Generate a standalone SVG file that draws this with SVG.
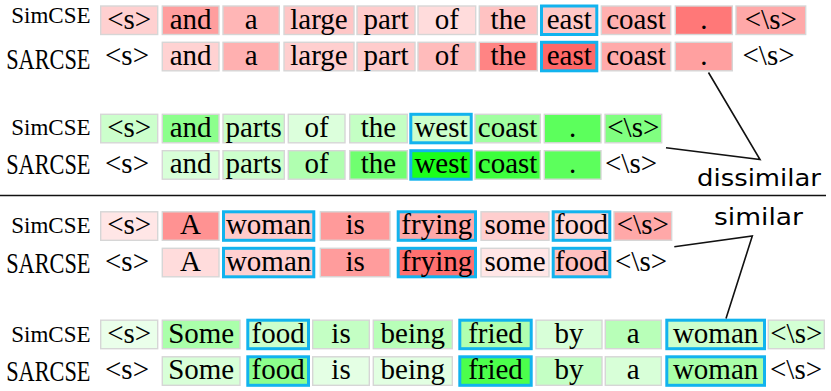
<svg xmlns="http://www.w3.org/2000/svg" width="831" height="391" viewBox="0 0 831 391">
<style>
.b{stroke:#d6d6d6;stroke-width:1.4}
.h{stroke:#12b3ee;stroke-width:3}
.t{font-family:"Liberation Serif","Times New Roman",serif;font-size:29px;text-anchor:middle;fill:#000}
.sim{font-family:"Liberation Serif","Times New Roman",serif;font-size:23px;text-anchor:end;fill:#000}
.sar{font-family:"Liberation Serif","Times New Roman",serif;font-size:22.3px;text-anchor:end;fill:#000}
.hw{font-family:"DejaVu Sans","Noto Sans",sans-serif;font-size:23px;fill:#000}
.ln{fill:none;stroke:#111;stroke-width:1.6;stroke-linejoin:miter}
</style>
<rect width="831" height="391" fill="#fff"/>

<!-- Row 1: SimCSE -->
<g id="row1">
<text class="sim" x="90.5" y="22.7">SimCSE</text>
<g id="r1_s"><rect class="b" x="100.7" y="6" width="57" height="28.5" fill="#ffd0d0"/><text class="t" x="129.2" y="28.5">&lt;s&gt;</text></g>
<g id="r1_and"><rect class="b" x="162.3" y="6" width="56.7" height="28.5" fill="#ff9e9e"/><text class="t" x="190.6" y="28.5">and</text></g>
<g id="r1_a"><rect class="b" x="223" y="6" width="56.3" height="28.5" fill="#ffb6b6"/><text class="t" x="251.1" y="28.5">a</text></g>
<g id="r1_large"><rect class="b" x="284" y="6" width="70" height="28.5" fill="#ffc6c6"/><text class="t" x="319" y="28.5">large</text></g>
<g id="r1_part"><rect class="b" x="357" y="6" width="58" height="28.5" fill="#ffcccc"/><text class="t" x="386" y="28.5">part</text></g>
<g id="r1_of"><rect class="b" x="418" y="6" width="57.7" height="28.5" fill="#ffdcdc"/><text class="t" x="446.8" y="28.5">of</text></g>
<g id="r1_the"><rect class="b" x="479.3" y="6" width="58" height="28.5" fill="#ffc2c2"/><text class="t" x="508.3" y="28.5">the</text></g>
<g id="r1_east"><rect class="h" x="541.5" y="6" width="55.3" height="28.5" fill="#ffc8c8"/><text class="t" x="569.2" y="28.5">east</text></g>
<g id="r1_coast"><rect class="b" x="601.3" y="6" width="69.4" height="28.5" fill="#ffb0b0"/><text class="t" x="636" y="28.5">coast</text></g>
<g id="r1_dot"><rect class="b" x="675.3" y="6" width="57" height="28.5" fill="#ff7878"/><text class="t" x="703.8" y="28.5">.</text></g>
<g id="r1_es"><rect class="b" x="736" y="6" width="69.7" height="28.5" fill="#ffa8a8"/><text class="t" x="770.8" y="28.5">&lt;\s&gt;</text></g>
</g>

<!-- Row 2: SARCSE -->
<g id="row2">
<text class="sar" transform="translate(90.5,69) scale(1,1.28)">SARCSE</text>
<g id="r2_s"><text class="t" x="127" y="64.8">&lt;s&gt;</text></g>
<g id="r2_and"><rect class="b" x="162.3" y="42.3" width="56.7" height="28.5" fill="#ffd2d2"/><text class="t" x="190.6" y="64.8">and</text></g>
<g id="r2_a"><rect class="b" x="223" y="42.3" width="56.3" height="28.5" fill="#ffb0b0"/><text class="t" x="251.1" y="64.8">a</text></g>
<g id="r2_large"><rect class="b" x="284" y="42.3" width="70" height="28.5" fill="#ffcfcf"/><text class="t" x="319" y="64.8">large</text></g>
<g id="r2_part"><rect class="b" x="357" y="42.3" width="58" height="28.5" fill="#ffcccc"/><text class="t" x="386" y="64.8">part</text></g>
<g id="r2_of"><rect class="b" x="418" y="42.3" width="57.7" height="28.5" fill="#ffbbbb"/><text class="t" x="446.8" y="64.8">of</text></g>
<g id="r2_the"><rect class="b" x="479.3" y="42.3" width="58" height="28.5" fill="#ff8484"/><text class="t" x="508.3" y="64.8">the</text></g>
<g id="r2_east"><rect class="h" x="541.5" y="42.3" width="55.3" height="28.5" fill="#ff6868"/><text class="t" x="569.2" y="64.8">east</text></g>
<g id="r2_coast"><rect class="b" x="601.3" y="42.3" width="69.4" height="28.5" fill="#ffaaaa"/><text class="t" x="636" y="64.8">coast</text></g>
<g id="r2_dot"><rect class="b" x="675.3" y="42.3" width="57" height="28.5" fill="#ffa0a0"/><text class="t" x="703.8" y="64.8">.</text></g>
<g id="r2_es"><text class="t" x="768.5" y="64.8">&lt;\s&gt;</text></g>
</g>

<!-- Row 3: SimCSE -->
<g id="row3">
<text class="sim" x="90.5" y="134.8">SimCSE</text>
<g id="r3_s"><rect class="b" x="100.7" y="114.3" width="57" height="28.5" fill="#ccffcc"/><text class="t" x="129.2" y="136.8">&lt;s&gt;</text></g>
<g id="r3_and"><rect class="b" x="162.3" y="114.3" width="56.7" height="28.5" fill="#8cff8c"/><text class="t" x="190.6" y="136.8">and</text></g>
<g id="r3_parts"><rect class="b" x="223" y="114.3" width="61.3" height="28.5" fill="#c8ffc8"/><text class="t" x="253.6" y="136.8">parts</text></g>
<g id="r3_of"><rect class="b" x="288.3" y="114.3" width="56.7" height="28.5" fill="#dcffdc"/><text class="t" x="316.6" y="136.8">of</text></g>
<g id="r3_the"><rect class="b" x="349.7" y="114.3" width="57.6" height="28.5" fill="#c4ffc4"/><text class="t" x="378.5" y="136.8">the</text></g>
<g id="r3_west"><rect class="h" x="410.8" y="114.3" width="60.4" height="28.5" fill="#ccffcc"/><text class="t" x="441" y="136.8">west</text></g>
<g id="r3_coast"><rect class="b" x="475" y="114.3" width="65.3" height="28.5" fill="#a0ffa0"/><text class="t" x="507.6" y="136.8">coast</text></g>
<g id="r3_dot"><rect class="b" x="544.3" y="114.3" width="56.7" height="28.5" fill="#5cff5c"/><text class="t" x="572.6" y="136.8">.</text></g>
<g id="r3_es"><rect class="b" x="605" y="114.3" width="56.7" height="28.5" fill="#80ff80"/><text class="t" x="633.3" y="136.8">&lt;\s&gt;</text></g>
</g>

<!-- Row 4: SARCSE -->
<g id="row4">
<text class="sar" transform="translate(90.5,174) scale(1,1.28)">SARCSE</text>
<g id="r4_s"><text class="t" x="127" y="173.2">&lt;s&gt;</text></g>
<g id="r4_and"><rect class="b" x="162.3" y="150.7" width="56.7" height="28.5" fill="#d8ffd8"/><text class="t" x="190.6" y="173.2">and</text></g>
<g id="r4_parts"><rect class="b" x="223" y="150.7" width="61.3" height="28.5" fill="#ccffcc"/><text class="t" x="253.6" y="173.2">parts</text></g>
<g id="r4_of"><rect class="b" x="288.3" y="150.7" width="56.7" height="28.5" fill="#b0ffb0"/><text class="t" x="316.6" y="173.2">of</text></g>
<g id="r4_the"><rect class="b" x="349.7" y="150.7" width="57.6" height="28.5" fill="#70ff70"/><text class="t" x="378.5" y="173.2">the</text></g>
<g id="r4_west"><rect class="h" x="410.8" y="150.7" width="60.4" height="28.5" fill="#1cff1c"/><text class="t" x="441" y="173.2">west</text></g>
<g id="r4_coast"><rect class="b" x="475" y="150.7" width="65.3" height="28.5" fill="#3cff3c"/><text class="t" x="507.6" y="173.2">coast</text></g>
<g id="r4_dot"><rect class="b" x="544.3" y="150.7" width="56.7" height="28.5" fill="#5cff5c"/><text class="t" x="572.6" y="173.2">.</text></g>
<g id="r4_es"><text class="t" x="631" y="173.2">&lt;\s&gt;</text></g>
</g>

<!-- Row 5: SimCSE -->
<g id="row5">
<text class="sim" x="90.5" y="233.3">SimCSE</text>
<g id="r5_s"><rect class="b" x="100.7" y="211.8" width="57" height="28.5" fill="#ffe6e6"/><text class="t" x="129.2" y="234.3">&lt;s&gt;</text></g>
<g id="r5_A"><rect class="b" x="162.3" y="211.8" width="56.7" height="28.5" fill="#ff9292"/><text class="t" x="190.6" y="234.3">A</text></g>
<g id="r5_woman"><rect class="h" x="223.5" y="211.8" width="90.3" height="28.5" fill="#ffcaca"/><text class="t" x="268.6" y="234.3">woman</text></g>
<g id="r5_is"><rect class="b" x="320.3" y="211.8" width="69.7" height="28.5" fill="#ff9a9a"/><text class="t" x="355.2" y="234.3">is</text></g>
<g id="r5_frying"><rect class="h" x="398.2" y="211.8" width="77.3" height="28.5" fill="#ffa8a8"/><text class="t" x="436.8" y="234.3">frying</text></g>
<g id="r5_some"><rect class="b" x="481" y="211.8" width="68" height="28.5" fill="#ffcece"/><text class="t" x="515" y="234.3">some</text></g>
<g id="r5_food"><rect class="h" x="553.2" y="211.8" width="56.6" height="28.5" fill="#ffd8d8"/><text class="t" x="581.5" y="234.3">food</text></g>
<g id="r5_es"><rect class="b" x="614" y="211.8" width="57.7" height="28.5" fill="#ffa8a8"/><text class="t" x="642.8" y="234.3">&lt;\s&gt;</text></g>
</g>

<!-- Row 6: SARCSE -->
<g id="row6">
<text class="sar" transform="translate(90.5,272.7) scale(1,1.28)">SARCSE</text>
<g id="r6_s"><text class="t" x="127" y="270.8">&lt;s&gt;</text></g>
<g id="r6_A"><rect class="b" x="162.3" y="248.3" width="56.7" height="28.5" fill="#ffdcdc"/><text class="t" x="190.6" y="270.8">A</text></g>
<g id="r6_woman"><rect class="h" x="223.5" y="248.3" width="90.3" height="28.5" fill="#ffd0d0"/><text class="t" x="268.6" y="270.8">woman</text></g>
<g id="r6_is"><rect class="b" x="320.3" y="248.3" width="69.7" height="28.5" fill="#ff9c9c"/><text class="t" x="355.2" y="270.8">is</text></g>
<g id="r6_frying"><rect class="h" x="398.2" y="248.3" width="77.3" height="28.5" fill="#ff7070"/><text class="t" x="436.8" y="270.8">frying</text></g>
<g id="r6_some"><rect class="b" x="481" y="248.3" width="68" height="28.5" fill="#ffe6e6"/><text class="t" x="515" y="270.8">some</text></g>
<g id="r6_food"><rect class="h" x="553.2" y="248.3" width="56.6" height="28.5" fill="#ffc0c0"/><text class="t" x="581.5" y="270.8">food</text></g>
<g id="r6_es"><text class="t" x="641" y="270.8">&lt;\s&gt;</text></g>
</g>

<!-- Row 7: SimCSE -->
<g id="row7">
<text class="sim" x="90.5" y="342.3">SimCSE</text>
<g id="r7_s"><rect class="b" x="100.7" y="320.2" width="57" height="28.5" fill="#eaffea"/><text class="t" x="129.2" y="342.7">&lt;s&gt;</text></g>
<g id="r7_Some"><rect class="b" x="162.3" y="320.2" width="77.7" height="28.5" fill="#aaffaa"/><text class="t" x="201.2" y="342.7">Some</text></g>
<g id="r7_food"><rect class="h" x="247.8" y="320.2" width="60.7" height="28.5" fill="#ccffcc"/><text class="t" x="278.2" y="342.7">food</text></g>
<g id="r7_is"><rect class="b" x="312.7" y="320.2" width="56.6" height="28.5" fill="#c4ffc4"/><text class="t" x="341" y="342.7">is</text></g>
<g id="r7_being"><rect class="b" x="373.3" y="320.2" width="79" height="28.5" fill="#b8ffb8"/><text class="t" x="412.8" y="342.7">being</text></g>
<g id="r7_fried"><rect class="h" x="459.8" y="320.2" width="71.4" height="28.5" fill="#b0ffb0"/><text class="t" x="495.5" y="342.7">fried</text></g>
<g id="r7_by"><rect class="b" x="536" y="320.2" width="66" height="28.5" fill="#d8ffd8"/><text class="t" x="569" y="342.7">by</text></g>
<g id="r7_a"><rect class="b" x="605.3" y="320.2" width="56" height="28.5" fill="#b8ffb8"/><text class="t" x="633.3" y="342.7">a</text></g>
<g id="r7_woman"><rect class="h" x="666.8" y="320.2" width="97.7" height="28.5" fill="#ccffcc"/><text class="t" x="715.6" y="342.7">woman</text></g>
<g id="r7_es"><rect class="b" x="768.3" y="320.2" width="56" height="28.5" fill="#d4ffd4"/><text class="t" x="796.3" y="342.7">&lt;\s&gt;</text></g>
</g>

<!-- Row 8: SARCSE -->
<g id="row8">
<text class="sar" transform="translate(90.5,381) scale(1,1.28)">SARCSE</text>
<g id="r8_s"><text class="t" x="127" y="379.3">&lt;s&gt;</text></g>
<g id="r8_Some"><rect class="b" x="162.3" y="356.8" width="77.7" height="28.5" fill="#d8ffd8"/><text class="t" x="201.2" y="379.3">Some</text></g>
<g id="r8_food"><rect class="h" x="247.8" y="356.8" width="60.7" height="28.5" fill="#8cff8c"/><text class="t" x="278.2" y="379.3">food</text></g>
<g id="r8_is"><rect class="b" x="312.7" y="356.8" width="56.6" height="28.5" fill="#e4ffe4"/><text class="t" x="341" y="379.3">is</text></g>
<g id="r8_being"><rect class="b" x="373.3" y="356.8" width="79" height="28.5" fill="#e2ffe2"/><text class="t" x="412.8" y="379.3">being</text></g>
<g id="r8_fried"><rect class="h" x="459.8" y="356.8" width="71.4" height="28.5" fill="#4cff4c"/><text class="t" x="495.5" y="379.3">fried</text></g>
<g id="r8_by"><rect class="b" x="536" y="356.8" width="66" height="28.5" fill="#c4ffc4"/><text class="t" x="569" y="379.3">by</text></g>
<g id="r8_a"><rect class="b" x="605.3" y="356.8" width="56" height="28.5" fill="#d8ffd8"/><text class="t" x="633.3" y="379.3">a</text></g>
<g id="r8_woman"><rect class="h" x="666.8" y="356.8" width="97.7" height="28.5" fill="#a8ffa8"/><text class="t" x="715.6" y="379.3">woman</text></g>
<g id="r8_es"><text class="t" x="796" y="379.3">&lt;\s&gt;</text></g>
</g>

<g id="divider">
<line x1="0" y1="195.5" x2="826" y2="195.5" stroke="#111" stroke-width="1.7"/>
</g>

<g id="dissimilar"><text class="hw" x="697" y="185.5" textLength="124" lengthAdjust="spacingAndGlyphs">dissimilar</text></g>
<g id="similar"><text class="hw" x="714" y="224.5" textLength="89" lengthAdjust="spacingAndGlyphs">similar</text></g>

<g id="connectors">
<polyline class="ln" points="708.5,72.5 760,159.5 666,147.7"/>
<polyline class="ln" points="674.3,246.7 752.3,236 726,318.5"/>
</g>
</svg>
